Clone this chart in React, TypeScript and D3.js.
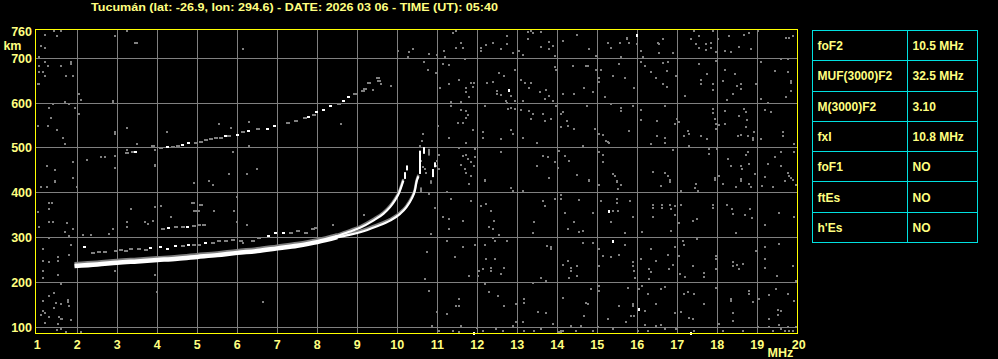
import React from "react";
import * as d3 from "d3";

const TITLE = "Tucumán (lat: -26.9, lon: 294.6) - DATE: 2026 03 06 - TIME (UT): 05:40";
const FREQ_TICKS = [1, 2, 3, 4, 5, 6, 7, 8, 9, 10, 11, 12, 13, 14, 15, 16, 17, 18, 19, 20];
const GRID_FREQS = [2, 3, 4, 5, 6, 7, 8, 9, 10, 11, 12, 13, 14, 15, 16, 17, 18, 19];
const HEIGHT_TICKS = [100, 200, 300, 400, 500, 600, 700, 760];
const GRID_HEIGHTS = [100, 200, 300, 400, 500, 600, 700];

const TABLE_PARAMS = ["foF2", "MUF(3000)F2", "M(3000)F2", "fxI", "foF1", "ftEs", "h'Es"];
const TABLE_VALUES = ["10.5 MHz", "32.5 MHz", "3.10", "10.8 MHz", "NO", "NO", "NO"];

// main F2 trace (freq MHz, virtual height km)
const mainTrace: [number, number][] = [
  [1.93, 237], [2.5, 240], [3, 244], [3.5, 247], [4, 250], [4.5, 253], [5, 257],
  [5.5, 261], [6, 266], [6.5, 270], [7, 276], [7.5, 282], [8, 290], [8.5, 301],
];
const branchO: [number, number][] = [
  [8.45, 302], [8.8, 313], [9.07, 322], [9.4, 338], [9.65, 353], [9.82, 368], [9.94, 383],
  [10.05, 401], [10.11, 416], [10.15, 427],
];
const branchX: [number, number][] = [
  [8.45, 300], [8.8, 306], [9.07, 312], [9.48, 325], [9.82, 338], [10.07, 353], [10.23, 368],
  [10.36, 387], [10.44, 405], [10.48, 424], [10.53, 437],
];
// near-vertical trace ends: [freq, h from, h to]
const tipDashes: [number, number, number][] = [
  [10.19, 431, 446], [10.23, 450, 461], [10.57, 442, 494], [10.66, 487, 502],
  [10.9, 435, 453], [10.94, 457, 468],
];
const tipDashesWeak: [number, number, number][] = [
  [10.78, 483, 498], [10.6, 400, 412], [10.85, 420, 428],
];
// second-hop echo
const upperEcho: [number, number][] = [
  [3.24, 488], [3.39, 490], [3.89, 505], [4.1, 501], [4.39, 503], [4.51, 505], [4.97, 512],
  [5.1, 514], [5.22, 518], [5.34, 521], [5.47, 523], [5.6, 523], [5.8, 527], [6.14, 536],
  [6.51, 543], [7.26, 555], [7.47, 561], [7.68, 566], [7.93, 573], [8.54, 598], [8.95, 620],
  [9.14, 627], [9.3, 646], [9.51, 657], [9.55, 650], [9.2, 632],
];
const upperEchoStrong: [number, number][] = [
  [3.47, 492], [4.26, 503], [4.64, 507], [4.8, 510], [5.72, 527], [6.01, 529], [6.3, 538],
  [6.76, 543], [6.95, 549], [7.8, 568], [7.99, 581], [8.18, 585], [8.35, 593], [8.68, 605],
  [8.79, 613],
];
// weaker echoes above the main trace
const sideEcho: [number, number][] = [
  [2.39, 265], [2.55, 267], [2.68, 268], [2.97, 271], [3.1, 272], [3.22, 271], [3.34, 274],
  [3.55, 274], [3.72, 273], [4.64, 282], [4.93, 283], [5.05, 283], [5.39, 289], [5.55, 293],
  [5.72, 293], [5.89, 295], [6.1, 293], [6.39, 292], [6.55, 300], [7.35, 310], [7.51, 314],
  [7.72, 310], [7.89, 320], [7.97, 322], [4.14, 319], [4.47, 323], [4.64, 324], [4.93, 326],
  [5.05, 328], [5.18, 328], [4.9, 378], [5.1, 372], [5.0, 360],
];
const sideEchoStrong: [number, number][] = [
  [3.84, 276], [4.1, 278], [4.26, 274], [4.47, 282], [4.8, 283], [5.22, 289], [6.8, 304],
  [6.97, 310], [7.18, 311], [4.3, 321], [4.76, 324], [2.2, 279],
];
// background interference
const noise: [number, number][] = [
  [1.18, 752], [1.43, 761], [1.6, 761], [1.5, 749], [1.1, 728], [1.18, 724], [1.04, 702], [1.2, 691],
  [1.85, 692], [1.85, 688], [1.04, 683], [1.26, 683], [1.6, 683], [1.15, 670], [1.05, 670], [1.72, 661],
  [1.89, 661], [1.2, 661], [1.01, 642], [1.03, 642], [2.95, 749], [3.25, 761], [3.45, 734], [3.49, 734],
  [2.04, 620], [2.1, 607], [1.7, 603], [1.79, 598], [2.9, 601], [2.9, 605], [1.3, 589], [1.4, 598],
  [1.95, 589], [2.04, 575], [1.35, 566], [1.01, 549], [1.26, 549], [1.5, 540], [2.95, 535], [2.95, 531],
  [3.25, 544], [1.64, 523], [1.7, 508], [4.24, 536], [5.54, 553], [3.49, 508], [2.6, 480], [2.7, 480],
  [2.24, 474], [2.95, 482], [3.24, 495], [2.95, 456], [3.95, 496], [3.95, 462], [3.95, 459], [1.89, 469],
  [1.24, 460], [1.45, 451], [1.89, 434], [1.1, 413], [1.24, 413], [1.45, 427], [1.45, 424], [1.99, 413],
  [4.93, 421], [5.29, 427], [5.39, 418], [1.3, 378], [1.36, 378], [1.29, 363], [1.01, 358], [3.35, 363],
  [3.95, 369], [4.1, 371], [1.3, 334], [1.39, 335], [1.74, 332], [1.89, 320], [2.8, 308], [2.9, 319],
  [3.24, 334], [3.24, 323], [3.7, 335], [3.76, 330], [3.89, 337], [4.35, 345], [4.93, 360], [5.05, 360],
  [5.43, 360], [1.04, 324], [1.68, 313], [1.79, 304], [1.3, 300], [2.14, 306], [2.34, 306], [1.14, 274],
  [1.85, 283], [1.51, 256], [1.51, 248], [1.14, 248], [1.3, 245], [1.79, 261], [2.95, 226], [3.95, 216],
  [1.51, 216], [1.14, 225], [1.14, 211], [3.99, 178], [1.6, 196], [1.43, 176], [1.3, 169], [1.14, 159],
  [1.76, 161], [1.76, 157], [1.47, 154], [1.43, 144], [1.6, 152], [1.8, 148], [1.14, 137], [1.18, 133],
  [1.1, 127], [1.3, 122], [1.55, 122], [1.62, 118], [1.58, 118], [1.51, 107], [1.18, 109], [1.85, 117],
  [1.72, 90], [1.49, 94], [1.6, 97], [2.1, 90],
  [6.14, 720], [10.01, 717], [10.3, 713], [10.39, 720], [10.26, 704], [9.85, 639], [9.6, 642], [9.39, 630],
  [8.6, 553], [6.29, 558], [5.85, 545], [6.29, 505], [5.9, 491], [5.79, 442], [6.24, 442], [6.5, 453],
  [5.99, 391], [5.93, 360], [5.99, 334], [6.24, 328], [9.18, 350], [8.39, 328], [6.64, 157], [6.14, 289],
  [10.8, 709], [10.99, 707], [11.47, 761], [11.39, 756], [11.6, 734], [11.47, 724], [11.64, 724], [11.18, 717],
  [11.2, 702], [10.68, 691], [10.76, 674], [11.14, 687], [11.3, 685], [10.97, 667], [11.68, 698], [12.1, 724],
  [12.1, 717], [12.22, 729], [12.39, 735], [12.74, 749], [12.74, 732], [12.6, 720], [12.89, 711], [13.05, 717],
  [13.14, 708], [13.26, 758], [13.35, 761], [13.39, 756], [13.26, 744], [13.6, 759], [13.6, 726], [13.8, 737],
  [13.8, 720], [13.89, 728], [13.93, 706], [14.14, 739], [14.5, 752], [14.79, 720], [14.97, 706], [15.26, 734],
  [11.07, 633], [11.3, 642], [11.54, 652], [11.72, 633], [11.72, 625], [11.85, 646], [11.93, 646], [11.89, 635],
  [11.8, 613], [11.35, 603], [11.6, 603], [12.24, 645], [12.39, 648], [12.49, 627], [12.49, 620], [12.55, 668],
  [12.68, 661], [12.6, 618], [12.72, 605], [12.84, 616], [12.95, 674], [12.93, 605], [13.14, 605], [13.1, 652],
  [13.2, 646], [13.35, 646], [13.3, 633], [13.57, 625], [13.72, 629], [13.68, 609], [13.8, 615], [13.89, 605],
  [13.97, 674], [13.93, 680], [14.14, 620], [14.43, 620], [14.39, 682], [14.72, 683], [14.76, 683], [14.68, 633],
  [14.97, 674], [15.1, 674], [15.04, 655], [15.04, 648], [14.89, 624], [15.18, 613], [11.35, 594], [11.6, 585],
  [11.72, 583], [11.72, 566], [11.76, 573], [11.51, 555], [11.64, 555], [11.01, 549], [11.89, 540], [10.64, 531],
  [11.29, 523], [11.72, 512], [12.14, 535], [12.14, 523], [12.18, 593], [12.6, 520], [12.85, 540], [12.89, 531],
  [12.74, 601], [12.76, 588], [12.85, 590], [12.93, 588], [13.1, 585], [13.3, 583], [13.35, 564], [13.39, 575],
  [13.64, 575], [13.68, 561], [13.85, 564], [14.1, 575], [14.1, 546], [14.24, 561], [14.26, 549], [14.43, 543],
  [13.97, 593], [14.14, 581], [14.74, 593], [14.95, 543], [15.04, 531], [15.14, 529], [13.49, 512], [13.14, 523],
  [15.22, 516], [11.55, 499], [11.64, 481], [11.72, 484], [11.76, 476], [11.6, 462], [11.85, 469], [11.85, 438],
  [11.93, 460], [11.8, 419], [11.7, 453], [11.72, 444], [11.95, 497], [11.95, 479], [11.05, 484], [11.04, 453],
  [11.24, 402], [12.18, 429], [12.18, 426], [12.6, 491], [12.85, 410], [12.89, 404], [13.14, 404], [13.49, 460],
  [13.64, 482], [13.76, 479], [13.8, 434], [13.93, 469], [14.04, 494], [14.01, 456], [14.18, 482], [14.3, 471],
  [14.5, 439], [14.64, 505], [14.79, 429], [14.79, 426], [15.04, 490], [15.04, 417], [15.14, 484], [15.14, 468],
  [15.3, 512], [10.8, 397], [10.95, 367], [11.14, 345], [11.29, 341], [11.29, 319], [11.35, 386], [11.64, 337],
  [11.85, 382], [12.1, 371], [12.22, 375], [12.35, 360], [12.43, 337], [12.3, 323], [12.39, 319], [12.54, 306],
  [12.39, 300], [12.74, 293], [13.43, 334], [13.39, 311], [13.64, 382], [13.68, 371], [13.95, 387], [14.1, 395],
  [14.1, 386], [14.2, 356], [14.26, 319], [14.54, 384], [14.43, 334], [14.54, 313], [14.64, 315], [14.89, 356],
  [15.1, 382], [10.85, 308], [11.24, 293], [11.64, 278], [11.95, 283], [11.45, 256], [10.75, 267], [11.79, 215],
  [12.18, 283], [12.45, 293], [12.22, 252], [12.14, 230], [12.05, 226], [12.35, 233], [12.35, 226], [12.45, 252],
  [12.68, 233], [12.6, 219], [12.01, 215], [13.85, 278], [13.85, 274], [13.74, 282], [13.6, 209], [13.72, 204],
  [14.14, 239], [14.26, 248], [14.34, 233], [14.34, 226], [14.5, 237], [14.5, 215], [14.3, 211], [14.64, 289],
  [14.89, 289], [15.04, 274], [15.05, 236], [15.14, 259], [10.79, 181], [10.7, 207], [11.55, 163], [11.47, 148],
  [11.53, 148], [11.24, 129], [10.99, 134], [12.18, 196], [12.3, 178], [12.51, 170], [12.68, 148], [12.97, 152],
  [13.18, 163], [13.18, 155], [13.14, 111], [13.39, 198], [13.51, 134], [13.72, 133], [13.89, 107], [14.14, 166],
  [14.72, 155], [14.76, 152], [14.68, 126], [14.84, 185], [15.05, 192], [15.04, 181], [10.87, 103],
  [10.6, 470], [10.65, 458], [10.7, 452], [10.72, 445], [10.99, 471], [11.0, 460], [10.58, 505], [10.62, 515],
  [11.05, 92], [11.39, 92], [11.55, 90], [12.14, 92], [12.47, 96], [12.64, 92], [12.89, 103], [12.97, 111],
  [13.18, 92], [13.43, 92], [13.6, 96], [14.1, 92], [14.14, 92], [14.34, 103], [14.47, 92], [14.6, 103],
  [14.89, 92], [15.01, 100], [14.05, 90], [14.1, 90], [11.6, 102], [12.0, 98],
  [15.74, 746], [15.74, 742], [15.99, 732], [15.57, 734], [15.79, 734], [15.35, 724], [15.6, 702], [16.1, 717],
  [16.14, 702], [16.51, 735], [16.55, 732], [16.64, 743], [16.55, 711], [16.89, 711], [17.43, 761], [17.35, 743],
  [17.47, 732], [17.55, 750], [17.55, 722], [17.72, 732], [17.72, 719], [17.85, 734], [17.85, 722], [17.89, 761],
  [18.01, 743], [17.97, 713], [18.18, 717], [18.35, 713], [18.29, 749], [18.55, 726], [18.68, 752], [18.8, 756],
  [18.85, 720], [19.01, 761], [19.72, 746], [19.79, 746], [19.89, 749], [15.39, 661], [15.55, 687], [15.68, 655],
  [15.93, 633], [16.1, 691], [16.2, 682], [16.35, 670], [16.47, 655], [16.64, 689], [16.76, 692], [16.64, 642],
  [16.74, 637], [16.74, 672], [16.97, 661], [17.2, 616], [17.54, 687], [17.6, 652], [17.6, 642], [17.75, 665],
  [17.89, 642], [17.89, 630], [17.97, 694], [18.14, 650], [18.18, 674], [18.24, 607], [18.39, 620], [18.45, 665],
  [18.49, 639], [18.59, 642], [18.59, 631], [18.97, 642], [19.1, 691], [19.1, 609], [19.26, 601], [19.43, 672],
  [19.76, 670], [19.85, 650], [19.85, 627], [19.85, 644], [19.72, 613], [19.6, 698], [19.76, 698], [15.35, 598],
  [15.6, 590], [15.6, 583], [15.89, 593], [15.79, 538], [15.26, 514], [16.1, 585], [16.1, 563], [16.49, 561],
  [16.7, 593], [16.49, 527], [16.7, 523], [16.7, 511], [16.35, 509], [16.99, 564], [17.05, 558], [16.95, 553],
  [17.26, 538], [17.29, 531], [17.18, 527], [17.6, 527], [17.29, 505], [17.75, 520], [17.89, 588], [17.89, 578],
  [17.97, 553], [17.97, 542], [17.93, 564], [18.05, 551], [18.2, 583], [18.2, 553], [18.54, 572], [18.68, 587],
  [18.72, 581], [18.74, 563], [18.72, 546], [18.51, 526], [18.6, 529], [18.76, 526], [18.89, 523], [18.89, 518],
  [18.93, 536], [19.1, 521], [19.18, 585], [19.35, 581], [19.64, 536], [19.64, 527], [19.93, 509],
  [15.39, 442], [15.43, 438], [15.5, 427], [15.5, 423], [15.51, 408], [15.6, 417], [15.5, 386], [15.5, 378],
  [16.39, 447], [16.7, 444], [16.76, 438], [16.83, 429], [16.83, 424], [16.6, 416], [16.89, 496], [17.47, 419],
  [17.45, 410], [17.51, 404], [17.1, 404], [17.8, 497], [17.8, 486], [17.99, 497], [17.93, 432], [17.93, 428],
  [18.15, 419], [18.05, 438], [18.35, 460], [18.26, 475], [18.59, 460], [18.62, 453], [18.59, 430], [18.59, 427],
  [18.47, 412], [18.76, 491], [18.72, 484], [18.8, 464], [18.8, 419], [18.85, 412], [18.95, 442], [19.12, 416],
  [19.18, 436], [19.26, 464], [19.39, 412], [19.43, 479], [19.6, 491], [19.6, 460], [19.7, 427], [19.76, 445],
  [19.8, 438], [19.85, 434], [19.9, 429], [19.93, 491], [19.97, 417],
  [15.39, 360], [15.51, 360], [15.35, 334], [15.68, 310], [15.82, 382], [15.89, 345], [16.12, 313], [16.39, 372],
  [16.39, 367], [16.39, 345], [16.62, 372], [16.62, 367], [16.82, 372], [16.85, 363], [16.95, 371], [16.95, 351],
  [17.04, 332], [16.85, 315], [17.1, 372], [17.39, 337], [17.49, 341], [17.9, 372], [17.9, 367], [18.24, 372],
  [18.37, 363], [18.39, 352], [18.47, 311], [18.7, 350], [18.82, 363], [18.87, 343], [19.18, 328], [19.54, 355],
  [19.93, 345], [15.55, 261], [15.35, 256], [15.68, 283], [15.89, 245], [15.89, 237], [15.93, 226], [15.95, 211],
  [16.1, 252], [16.3, 231], [16.35, 224], [16.47, 248], [16.35, 274], [16.8, 230], [16.89, 239], [16.76, 261],
  [16.95, 280], [17.05, 259], [17.14, 293], [17.18, 283], [17.07, 219], [17.2, 213], [17.39, 237], [17.49, 298],
  [17.68, 222], [17.68, 213], [17.97, 259], [17.97, 252], [17.97, 231], [18.39, 245], [18.39, 236], [18.49, 239],
  [18.54, 231], [18.64, 241], [18.97, 271], [19.2, 280], [19.18, 252], [19.2, 233], [19.54, 285], [19.49, 215],
  [19.89, 237], [19.97, 204], [16.29, 207], [16.12, 192], [16.04, 185], [15.76, 187], [15.89, 152], [15.89, 148],
  [15.55, 148], [15.93, 126], [15.85, 126], [15.72, 111], [16.2, 137], [16.26, 174], [16.47, 152], [16.6, 185],
  [16.7, 191], [16.95, 133], [17.1, 134], [17.18, 174], [17.26, 178], [17.43, 174], [17.29, 120], [17.39, 118],
  [17.68, 152], [17.97, 187], [18.35, 163], [18.35, 159], [18.39, 133], [18.39, 114], [18.8, 181], [18.8, 174],
  [18.89, 157], [19.01, 164], [19.05, 164], [19.29, 172], [19.47, 185], [19.51, 138], [19.6, 137], [19.51, 127],
  [19.76, 174], [19.93, 159], [19.3, 118], [15.26, 118], [15.39, 97],
  [16.01, 92], [16.2, 105], [16.26, 92], [16.47, 103], [16.6, 105], [16.7, 96], [16.97, 97], [17.43, 92],
  [18.05, 107], [18.14, 92], [18.64, 92], [19.01, 100], [19.3, 100], [19.39, 92], [19.55, 105], [19.6, 96],
  [19.76, 100], [19.89, 92], [19.97, 100], [19.8, 92], [19.7, 92],
];
const noiseStrong: [number, number][] = [
  [12.79, 629], [11.93, 88], [15.99, 752], [15.29, 360], [15.39, 293], [16.04, 140], [17.35, 88],
];

const W = 998;
const H = 359;
const FRAME = { left: 35.5, right: 797.5, top: 29.5, bottom: 333.5 };
const TABLE = { left: 812.5, right: 977.5, split: 907.5, top: 30.5, bottom: 242.5 };

const x = d3.scaleLinear().domain([1, 20]).range([37.3, 797.3]);
const y = d3.scaleLinear().domain([100, 700]).range([327.3, 58.3]);
const crisp = (v: number) => Math.floor(v) + 0.5;

const TEXT = "#ffff80";
const GRAY = "#808080";
const FONT = "'Liberation Sans', Arial, sans-serif";

export default function App() {
  const line = d3
    .line<[number, number]>()
    .x((d) => x(d[0]))
    .y((d) => y(d[1]))
    .curve(d3.curveMonotoneX);

  const rowH = (TABLE.bottom - TABLE.top) / TABLE_PARAMS.length;

  return (
    <div style={{ position: "fixed", left: 0, top: 0, width: W, height: H, background: "#000" }}>
      <svg width={W} height={H} style={{ display: "block" }}>
        <rect x={0} y={0} width={W} height={H} fill="#000" />
        <text
          x={91}
          y={11}
          fill={TEXT}
          fontFamily={FONT}
          fontWeight="bold"
          fontSize={11}
          textLength={407}
          lengthAdjust="spacingAndGlyphs"
        >
          {TITLE}
        </text>

        {/* grid */}
        {GRID_FREQS.map((f) => (
          <line key={"gx" + f} x1={crisp(x(f))} x2={crisp(x(f))} y1={FRAME.top} y2={FRAME.bottom} stroke={GRAY} strokeWidth={1} />
        ))}
        {GRID_HEIGHTS.map((h) => (
          <line key={"gy" + h} x1={FRAME.left} x2={FRAME.right} y1={crisp(y(h))} y2={crisp(y(h))} stroke={GRAY} strokeWidth={1} />
        ))}

        {/* noise */}
        {noise.map((d, i) => (
          <rect key={"n" + i} x={Math.round(x(d[0])) - 1} y={Math.round(y(d[1])) - 1} width={2} height={2} fill={GRAY} />
        ))}
        {noiseStrong.map((d, i) => (
          <rect key={"ns" + i} x={Math.round(x(d[0])) - 1} y={Math.round(y(d[1])) - 1} width={2} height={3} fill="#fff" />
        ))}

        {/* weak echoes */}
        {[...upperEcho, ...sideEcho].map((d, i) => (
          <rect key={"ue" + i} x={Math.round(x(d[0])) - 2} y={Math.round(y(d[1])) - 1} width={4} height={2} fill={GRAY} />
        ))}
        {[...upperEchoStrong, ...sideEchoStrong].map((d, i) => (
          <rect key={"us" + i} x={Math.round(x(d[0])) - 2} y={Math.round(y(d[1])) - 1} width={3} height={2} fill="#fff" />
        ))}

        {/* main traces */}
        <g transform="translate(0,-1.5)">
          <path d={line(mainTrace) || ""} fill="none" stroke={GRAY} strokeWidth={5} />
          <path d={line(branchO) || ""} fill="none" stroke={GRAY} strokeWidth={2.5} />
          <path d={line(branchX) || ""} fill="none" stroke={GRAY} strokeWidth={2.5} />
        </g>
        <path d={line(mainTrace) || ""} fill="none" stroke="#fff" strokeWidth={4.5} />
        <path d={line(branchO) || ""} fill="none" stroke="#fff" strokeWidth={2.2} />
        <path d={line(branchX) || ""} fill="none" stroke="#fff" strokeWidth={2.2} />
        {tipDashesWeak.map((d, i) => (
          <rect
            key={"tw" + i}
            x={Math.round(x(d[0])) - 1}
            y={y(d[2])}
            width={2}
            height={y(d[1]) - y(d[2])}
            fill={GRAY}
          />
        ))}
        {tipDashes.map((d, i) => (
          <rect
            key={"td" + i}
            x={Math.round(x(d[0])) - 1}
            y={y(d[2])}
            width={2}
            height={y(d[1]) - y(d[2])}
            fill="#fff"
          />
        ))}

        {/* frame */}
        <rect
          x={FRAME.left}
          y={FRAME.top}
          width={FRAME.right - FRAME.left}
          height={FRAME.bottom - FRAME.top}
          fill="none"
          stroke="#ffff00"
          strokeWidth={1}
        />

        {/* axis labels */}
        {HEIGHT_TICKS.map((h) => (
          <text
            key={"yl" + h}
            x={32}
            y={y(h) + 4.5}
            textAnchor="end"
            fill={TEXT}
            fontFamily={FONT}
            fontWeight="bold"
            fontSize={12.5}
          >
            {h}
          </text>
        ))}
        <text x={21.5} y={49.5} textAnchor="end" fill={TEXT} fontFamily={FONT} fontWeight="bold" fontSize={12.5}>
          km
        </text>
        {FREQ_TICKS.map((f) => (
          <text
            key={"xl" + f}
            x={f === 20 ? x(f) + 1.5 : x(f)}
            y={348.5}
            textAnchor="middle"
            fill={TEXT}
            fontFamily={FONT}
            fontWeight="bold"
            fontSize={12.5}
          >
            {f}
          </text>
        ))}
        <text x={767.5} y={356.5} fill={TEXT} fontFamily={FONT} fontWeight="bold" fontSize={12.5}>
          MHz
        </text>

        {/* parameter table */}
        <rect
          x={TABLE.left}
          y={TABLE.top}
          width={TABLE.right - TABLE.left}
          height={TABLE.bottom - TABLE.top}
          fill="none"
          stroke="#00e0e0"
          strokeWidth={1}
        />
        <line x1={TABLE.split} x2={TABLE.split} y1={TABLE.top} y2={TABLE.bottom} stroke="#00e0e0" />
        {TABLE_PARAMS.slice(1).map((_, i) => (
          <line
            key={"tr" + i}
            x1={TABLE.left}
            x2={TABLE.right}
            y1={crisp(TABLE.top + rowH * (i + 1))}
            y2={crisp(TABLE.top + rowH * (i + 1))}
            stroke="#00e0e0"
          />
        ))}
        {TABLE_PARAMS.map((p, i) => (
          <text
            key={"tp" + i}
            x={TABLE.left + 5}
            y={TABLE.top + rowH * (i + 0.5) + 4.5}
            fill={TEXT}
            fontFamily={FONT}
            fontWeight="bold"
            fontSize={12}
          >
            {p}
          </text>
        ))}
        {TABLE_VALUES.map((v, i) => (
          <text
            key={"tv" + i}
            x={TABLE.split + 5}
            y={TABLE.top + rowH * (i + 0.5) + 4.5}
            fill={TEXT}
            fontFamily={FONT}
            fontWeight="bold"
            fontSize={12}
          >
            {v}
          </text>
        ))}
      </svg>
    </div>
  );
}
